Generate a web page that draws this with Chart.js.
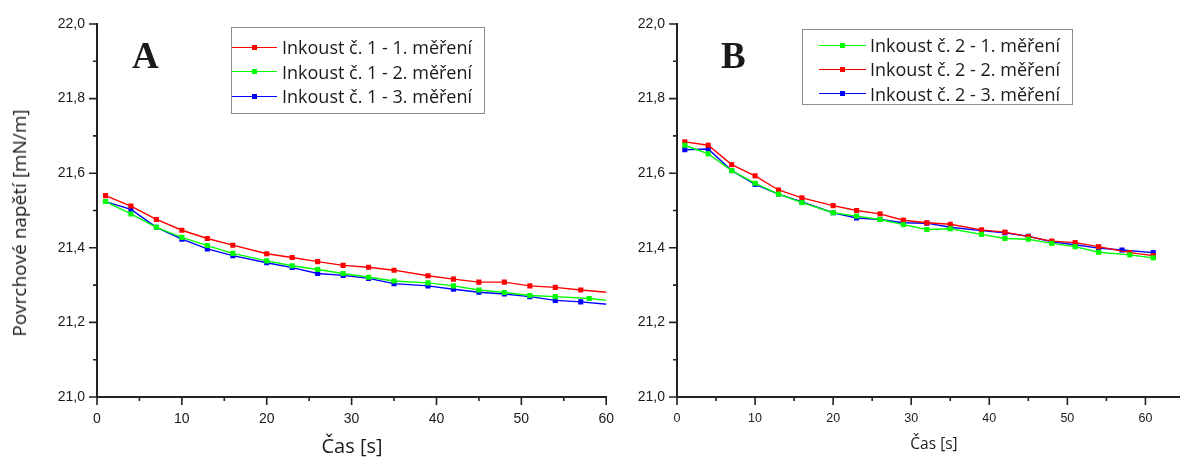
<!DOCTYPE html>
<html>
<head>
<meta charset="utf-8">
<script src="https://cdn.jsdelivr.net/npm/chart.js@4.4.1/dist/chart.umd.min.js"></script>
<style>
html, body { margin: 0; padding: 0; background: #fff; overflow: hidden; }
body { width: 1183px; height: 457px; position: relative; font-family: "Open Sans", sans-serif; color: #1a1a1a; }
canvas { display: block; position: absolute; top: 0; }
.legend { position: absolute; border: 1px solid #8c8c8c; background: #fff; box-sizing: border-box; }
.row { position: absolute; left: 0; right: 0; height: 24px; }
.row .ln { position: absolute; top: 11.5px; height: 1.4px; }
.row .mk { position: absolute; top: 9.5px; width: 5px; height: 5px; }
.row .tx { position: absolute; top: 0; line-height: 24px; font-size: 18px; white-space: nowrap; }
.panel { position: absolute; font-family: "Liberation Serif", "Times New Roman", serif; font-weight: bold; font-size: 37px; line-height: 1; }
.title { position: absolute; white-space: nowrap; transform: translate(-50%, -50%); }
</style>
</head>
<body>
<canvas id="chartA" width="620" height="457" style="left:0"></canvas>
<canvas id="chartB" width="563" height="457" style="left:620px"></canvas>

<div class="panel" style="left:132px;top:37px">A</div>
<div class="panel" style="left:721px;top:37px">B</div>

<div class="title" style="left:19px;top:223px;font-size:19px;transform:translate(-50%,-50%) rotate(-90deg)">Povrchové napětí [mN/m]</div>
<div class="title" style="left:352px;top:445px;font-size:20px">Čas [s]</div>
<div class="title" style="left:934px;top:443px;font-size:15.5px">Čas [s]</div>

<div id="legendA" class="legend" style="left:231px;top:27px;width:254px;height:87px"></div>
<div id="legendB" class="legend" style="left:802px;top:29px;width:271px;height:76px"></div>

<script>
// panel A - ink no. 1
const labelsA = ["Inkoust č. 1 - 1. měření", "Inkoust č. 1 - 2. měření", "Inkoust č. 1 - 3. měření"];
const colorsA = ["#ff0000", "#00ff00", "#0000ff"];
const timeA1 = [1, 4, 7, 10, 13, 16, 20, 23, 26, 29, 32, 35, 39, 42, 45, 48, 51, 54, 57, 61];
const timeA2 = [1, 4, 7, 10, 13, 16, 20, 23, 26, 29, 32, 35, 39, 42, 45, 48, 51, 54, 58, 61];
const timeA3 = [1, 4, 7, 10, 13, 16, 20, 23, 26, 29, 32, 35, 39, 42, 45, 48, 51, 54, 57, 61];
const valuesA1 = [21.540, 21.512, 21.476, 21.447, 21.425, 21.407, 21.384, 21.374, 21.363, 21.353, 21.348, 21.340, 21.325, 21.316, 21.308, 21.308, 21.298, 21.294, 21.287, 21.279];
const valuesA2 = [21.524, 21.491, 21.455, 21.428, 21.406, 21.385, 21.365, 21.352, 21.342, 21.331, 21.321, 21.311, 21.306, 21.298, 21.287, 21.280, 21.272, 21.269, 21.264, 21.257];
const valuesA3 = [21.524, 21.503, 21.455, 21.423, 21.397, 21.379, 21.360, 21.347, 21.331, 21.326, 21.318, 21.304, 21.298, 21.289, 21.281, 21.276, 21.269, 21.259, 21.255, 21.247];

// panel B - ink no. 2
const labelsB = ["Inkoust č. 2 - 1. měření", "Inkoust č. 2 - 2. měření", "Inkoust č. 2 - 3. měření"];
const colorsB = ["#00ff00", "#ff0000", "#0000ff"];
const timeB1 = [1, 4, 7, 10, 13, 16, 20, 23, 26, 29, 32, 35, 39, 42, 45, 48, 51, 54, 58, 61];
const timeB2 = [1, 4, 7, 10, 13, 16, 20, 23, 26, 29, 32, 35, 39, 42, 45, 48, 51, 54, 58, 61];
const timeB3 = [1, 4, 7, 10, 13, 16, 20, 23, 26, 29, 32, 35, 39, 42, 45, 48, 51, 54, 57, 61];
const valuesB1 = [21.675, 21.652, 21.607, 21.573, 21.544, 21.521, 21.494, 21.485, 21.476, 21.462, 21.449, 21.451, 21.436, 21.425, 21.423, 21.412, 21.403, 21.388, 21.381, 21.373];
const valuesB2 = [21.684, 21.675, 21.623, 21.593, 21.555, 21.534, 21.513, 21.500, 21.491, 21.474, 21.467, 21.463, 21.448, 21.442, 21.430, 21.418, 21.414, 21.403, 21.387, 21.379];
const valuesB3 = [21.663, 21.665, 21.607, 21.570, 21.544, 21.523, 21.494, 21.480, 21.476, 21.467, 21.466, 21.455, 21.446, 21.440, 21.431, 21.416, 21.408, 21.399, 21.394, 21.387];

const yTicks = ["21,0", "21,2", "21,4", "21,6", "21,8", "22,0"];

const makeDataset = (label, color, times, values) => ({
    label: label,
    data: times.map((t, i) => ({ x: t, y: values[i] })),
    borderColor: color,
    backgroundColor: color,
    borderWidth: 1.4,
    pointStyle: "rect",
    pointRadius: 3.6,
    pointBorderWidth: 0,
    clip: 0
});

// short minor ticks, long major ticks, drawn on the scales
const tickMarks = {
    id: "tickMarks",
    afterDraw(chart) {
        const ctx = chart.ctx;
        const xs = chart.scales.x, ys = chart.scales.y;
        ctx.save();
        ctx.strokeStyle = "#222";
        ctx.lineWidth = 1.6;
        ctx.beginPath();
        xs.ticks.forEach(t => {
            const px = xs.getPixelForValue(t.value);
            const len = t.label !== "" ? 8 : 4;
            ctx.moveTo(px, xs.top);
            ctx.lineTo(px, xs.top + len);
        });
        ys.ticks.forEach(t => {
            const py = ys.getPixelForValue(t.value);
            const len = t.label !== "" ? 8 : 4;
            ctx.moveTo(ys.right, py);
            ctx.lineTo(ys.right - len, py);
        });
        ctx.stroke();
        ctx.restore();
    }
};

const makeOptions = (xMax, yWidth, xFont, padRight) => ({
    responsive: false,
    animation: false,
    devicePixelRatio: 1,
    layout: { padding: { top: 24, right: padRight, left: 0, bottom: 0 } },
    plugins: { legend: { display: false }, tooltip: { enabled: false } },
    scales: {
        x: {
            type: "linear",
            min: 0,
            max: xMax,
            grid: { drawOnChartArea: false, tickLength: 8, tickColor: "rgba(0,0,0,0)" },
            border: { color: "#222", width: 2 },
            ticks: {
                stepSize: 5,
                includeBounds: false,
                padding: 6,
                color: "#1a1a1a",
                font: { family: "'Liberation Sans', Arial", size: xFont },
                maxRotation: 0,
                autoSkip: false,
                callback: v => (Math.round(v) % 10 === 0 ? String(Math.round(v)) : "")
            },
            afterBuildTicks: scale => {
                scale.ticks = scale.ticks.filter(t => Math.abs(t.value / 5 - Math.round(t.value / 5)) < 1e-6);
            },
            afterFit: scale => { scale.height = 60; }
        },
        y: {
            min: 21,
            max: 22,
            grid: { drawOnChartArea: false, tickLength: 8, tickColor: "rgba(0,0,0,0)" },
            border: { color: "#222", width: 2 },
            ticks: {
                stepSize: 0.1,
                padding: 4,
                color: "#1a1a1a",
                autoSkip: false,
                font: { family: "'Liberation Sans', Arial", size: 14 },
                callback: v => {
                    const k = Math.round(v * 10);
                    return k % 2 === 0 ? yTicks[(k - 210) / 2] : "";
                }
            },
            afterFit: scale => { scale.width = yWidth; }
        }
    }
});

const buildLegend = (el, labels, colors, rowTop, rowGap, lineLeft, lineWidth, textLeft) => {
    labels.forEach((label, i) => {
        const row = document.createElement("div");
        row.className = "row";
        row.style.top = (rowTop + i * rowGap) + "px";
        row.innerHTML =
            '<span class="ln" style="left:' + lineLeft + 'px;width:' + lineWidth + 'px;background:' + colors[i] + '"></span>' +
            '<span class="mk" style="left:' + (lineLeft + lineWidth / 2 - 2.5) + 'px;background:' + colors[i] + '"></span>' +
            '<span class="tx" style="left:' + textLeft + 'px">' + label + '</span>';
        el.appendChild(row);
    });
};

new Chart(document.getElementById("chartA"), {
    type: "line",
    data: {
        datasets: [
            makeDataset(labelsA[0], colorsA[0], timeA1, valuesA1),
            makeDataset(labelsA[1], colorsA[1], timeA2, valuesA2),
            makeDataset(labelsA[2], colorsA[2], timeA3, valuesA3)
        ]
    },
    options: makeOptions(60, 97, 14, 11),
    plugins: [tickMarks]
});

new Chart(document.getElementById("chartB"), {
    type: "line",
    data: {
        datasets: [
            makeDataset(labelsB[0], colorsB[0], timeB1, valuesB1),
            makeDataset(labelsB[1], colorsB[1], timeB2, valuesB2),
            makeDataset(labelsB[2], colorsB[2], timeB3, valuesB3)
        ]
    },
    options: makeOptions(64.3, 57, 12.5, 0),
    plugins: [tickMarks]
});

buildLegend(document.getElementById("legendA"), labelsA, colorsA, 7, 24.5, 0, 45, 50);
buildLegend(document.getElementById("legendB"), labelsB, colorsB, 3, 24.3, 16, 47, 67);
</script>
</body>
</html>
